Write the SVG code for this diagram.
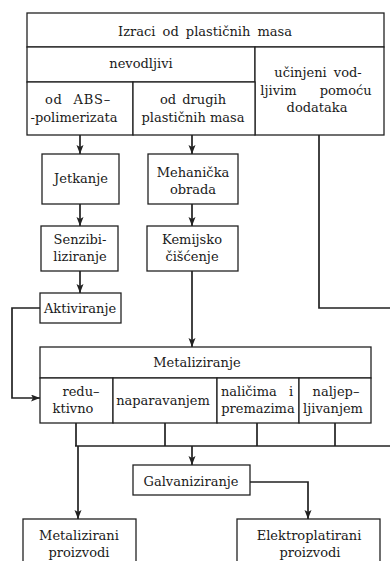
<svg xmlns="http://www.w3.org/2000/svg" width="390" height="561" viewBox="0 0 390 561">
<defs>
<style>
.b{fill:#fff;stroke:#222;stroke-width:1.3}
.t{font-family:'DejaVu Serif','Times New Roman',serif;font-size:13px;fill:#1a1a1a;text-anchor:middle}
.c{fill:none;stroke:#222;stroke-width:1.7}
</style>
<marker id="ah" markerUnits="userSpaceOnUse" markerWidth="10" markerHeight="8" refX="9" refY="3.5" orient="auto">
<path d="M0,0 L9,3.5 L0,7 L2,3.5 z" fill="#222"/>
</marker>
</defs>
<rect width="390" height="561" fill="#fff"/>
<g id="connectors">
<path class="c" d="M80,135 V154" marker-end="url(#ah)"/>
<path class="c" d="M192,135 V154" marker-end="url(#ah)"/>
<path class="c" d="M80,204 V226" marker-end="url(#ah)"/>
<path class="c" d="M192,204 V226" marker-end="url(#ah)"/>
<path class="c" d="M80,271 V293" marker-end="url(#ah)"/>
<path class="c" d="M192,271 V347" marker-end="url(#ah)"/>
<path class="c" d="M319,135 V308 H390"/>
<path class="c" d="M40,308 H12 V398 H40" marker-end="url(#ah)"/>
<path class="c" d="M76,423 V446 M165,423 V446 M257,423 V446 M335,423 V446"/>
<path class="c" d="M75,446 H390"/>
<path class="c" d="M78,446 V519" marker-end="url(#ah)"/>
<path class="c" d="M192,446 V465" marker-end="url(#ah)"/>
<path class="c" d="M250,482 H308 V519" marker-end="url(#ah)"/>
</g>
<g id="n_izraci"><rect class="b" x="27" y="13" width="357" height="34"/><text class="t" x="205" y="36" word-spacing="3">Izraci od plastičnih masa</text></g>
<g id="n_nevodljivi"><rect class="b" x="27" y="47" width="228" height="35"/><text class="t" x="141" y="68">nevodljivi</text></g>
<g id="n_ucinjeni"><rect class="b" x="255" y="47" width="129" height="88"/><text class="t" x="318" y="77" word-spacing="3">učinjeni vod-</text><text class="t" x="316" y="95" word-spacing="19">ljivim pomoću</text><text class="t" x="317" y="112">dodataka</text></g>
<g id="n_abs"><rect class="b" x="27" y="82" width="106" height="53"/><text class="t" x="78" y="104" word-spacing="6" letter-spacing="0.8">od ABS–</text><text class="t" x="74" y="122">-polimerizata</text></g>
<g id="n_drugih"><rect class="b" x="133" y="82" width="122" height="53"/><text class="t" x="193" y="104" word-spacing="2">od drugih</text><text class="t" x="193" y="122">plastičnih masa</text></g>
<g id="n_jetkanje"><rect class="b" x="42" y="154" width="77" height="50"/><text class="t" x="81" y="183">Jetkanje</text></g>
<g id="n_mehanicka"><rect class="b" x="148" y="154" width="90" height="50"/><text class="t" x="193" y="177">Mehanička</text><text class="t" x="193" y="194">obrada</text></g>
<g id="n_senzibiliziranje"><rect class="b" x="41" y="226" width="77" height="45"/><text class="t" x="80" y="244">Senzibi-</text><text class="t" x="80" y="261">liziranje</text></g>
<g id="n_kemijsko"><rect class="b" x="147" y="226" width="91" height="45"/><text class="t" x="192" y="244">Kemijsko</text><text class="t" x="192" y="261">čišćenje</text></g>
<g id="n_aktiviranje"><rect class="b" x="40" y="293" width="81" height="30"/><text class="t" x="80" y="313">Aktiviranje</text></g>
<g id="n_metaliziranje"><rect class="b" x="40" y="347" width="331" height="31"/><text class="t" x="197" y="367">Metaliziranje</text></g>
<g id="n_reduktivno"><rect class="b" x="40" y="378" width="73" height="45"/><text class="t" x="81" y="396">redu–</text><text class="t" x="73" y="413">ktivno</text></g>
<g id="n_naparavanjem"><rect class="b" x="113" y="378" width="104" height="45"/><text class="t" x="163" y="405">naparavanjem</text></g>
<g id="n_nalicima"><rect class="b" x="217" y="378" width="82" height="45"/><text class="t" x="257" y="396" word-spacing="8">naličima i</text><text class="t" x="258" y="413">premazima</text></g>
<g id="n_naljepljivanjem"><rect class="b" x="299" y="378" width="72" height="45"/><text class="t" x="336" y="396">naljep–</text><text class="t" x="333" y="413">ljivanjem</text></g>
<g id="n_galvaniziranje"><rect class="b" x="133" y="465" width="117" height="30"/><text class="t" x="191" y="486">Galvaniziranje</text></g>
<g id="n_metalizirani"><rect class="b" x="23" y="519" width="113" height="50"/><text class="t" x="79" y="540">Metalizirani</text><text class="t" x="79" y="557">proizvodi</text></g>
<g id="n_elektroplatirani"><rect class="b" x="237" y="519" width="143" height="50"/><text class="t" x="309" y="540">Elektroplatirani</text><text class="t" x="310" y="557">proizvodi</text></g>
</svg>
